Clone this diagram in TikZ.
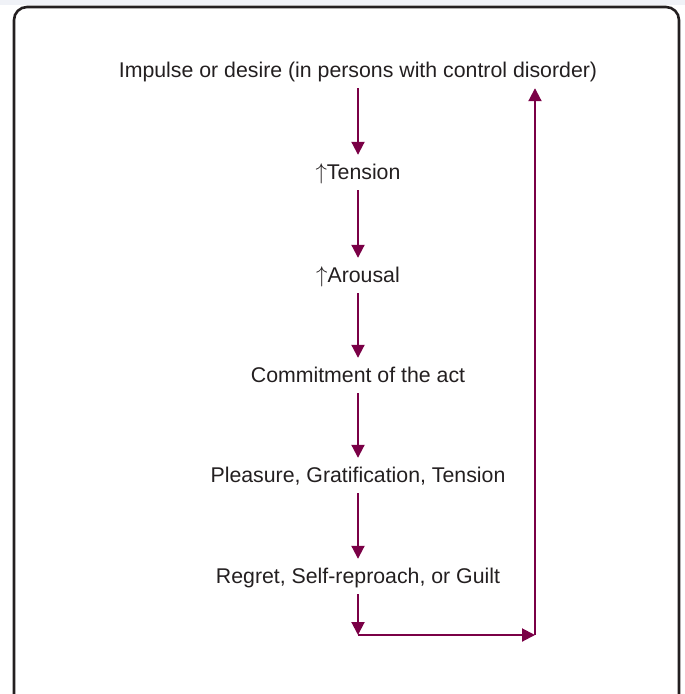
\documentclass[tikz,border=0pt]{standalone}
\usepackage{fontspec}
\setmainfont{Liberation Sans}
\usetikzlibrary{arrows.meta}
\definecolor{wine}{RGB}{122,0,70}
\definecolor{ink}{RGB}{35,31,32}
\definecolor{haze}{RGB}{240,242,247}
\newcommand{\upmark}{\scalebox{1.1}{$\uparrow$}}
\begin{document}
\begin{tikzpicture}[x=1pt,y=-1pt,
  stage/.style={anchor=base, text=ink, inner xsep=0pt, inner ysep=8pt,
    text height=16pt, text depth=3pt, font=\fontsize{21.3}{25}\selectfont},
  conn/.style={draw=wine, line width=2pt,
    -{Triangle[length=13pt,width=13pt]}}]
  \useasboundingbox (0,0) rectangle (685,694);
  % faint strip along the top edge
  \fill[haze] (0,0) rectangle (685,5);
  % outer frame, running off the bottom
  \begin{scope}
    \clip (0,0) rectangle (685,694);
    \draw[ink, line width=2.6pt, rounded corners=13pt]
      (14,720) -- (14,7) -- (679,7) -- (679,720);
  \end{scope}
  % stages of the cycle
  \node[stage] (impulse) at (358,77) {Impulse or desire (in persons with control disorder)};
  \node[stage] (tension) at (358,179) {\upmark Tension};
  \node[stage] (arousal) at (358,282) {\upmark Arousal};
  \node[stage] (act) at (358,382) {Commitment of the act};
  \node[stage] (pleasure) at (358,482) {Pleasure, Gratification, Tension};
  \node[stage] (regret) at (358,583) {Regret, Self-reproach, or Guilt};
  \coordinate (low) at (358,635);
  \coordinate (turn) at (535,635);
  % connectors
  \draw[conn] (impulse) -- (tension);
  \draw[conn] (tension) -- (arousal);
  \draw[conn] (arousal) -- (act);
  \draw[conn] (act) -- (pleasure);
  \draw[conn] (pleasure) -- (regret);
  \draw[conn] (regret) -- (low);
  \draw[conn] (low) -- (turn);
  \draw[conn] (turn) -- (turn |- impulse.south);
\end{tikzpicture}
\end{document}
